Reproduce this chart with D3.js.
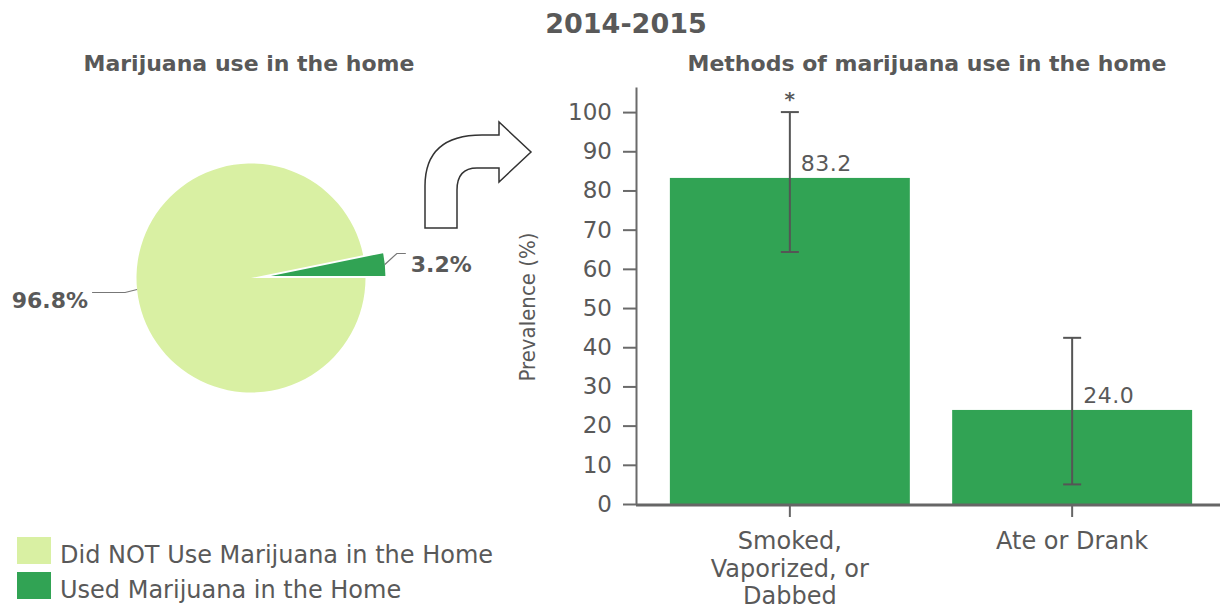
<!DOCTYPE html>
<html>
<head>
<meta charset="utf-8">
<script src="https://cdn.jsdelivr.net/npm/d3@7"></script>
<style>
body { margin: 0; background: #fff; }
text { font-family: "DejaVu Sans", sans-serif; fill: #595959; }
.cond { font-family: "DejaVu Sans Condensed", "DejaVu Sans", sans-serif; }
</style>
</head>
<body>
<script>
// pie data
var pieLabels = ["Used Marijuana in the Home", "Did NOT Use Marijuana in the Home"];
var pieValues = [3.2, 96.8];
var pieColors = ["#31a354", "#d9f0a3"];

// bar data
var methods = ["Smoked, Vaporized, or Dabbed", "Ate or Drank"];
var methodLines = [["Smoked,", "Vaporized, or", "Dabbed"], ["Ate or Drank"]];
var methodValues = [83.2, 24.0];
var ciLow = [64.3, 5.0];
var ciHigh = [100, 42.4];
var flags = ["*", ""];
var yTicks = [0, 10, 20, 30, 40, 50, 60, 70, 80, 90, 100];

var width = 1220, height = 610;

var svg = d3.select("body")
    .append("svg")
    .attr("width", width)
    .attr("height", height);

svg.append("text")
    .attr("x", 626).attr("y", 33)
    .attr("text-anchor", "middle")
    .attr("font-size", 27).attr("font-weight", "bold")
    .text("2014-2015");

// ---- pie ----
svg.append("text")
    .attr("x", 249).attr("y", 71)
    .attr("text-anchor", "middle")
    .attr("font-size", 22).attr("font-weight", "bold")
    .text("Marijuana use in the home");

var radius = 114.5;
var start = Math.PI / 2 - 2 * Math.PI * pieValues[0] / 100;
var pie = d3.pie().sort(null)
    .startAngle(start)
    .endAngle(start + 2 * Math.PI);
var arc = d3.arc().innerRadius(0).outerRadius(radius);

var pg = svg.append("g").attr("transform", "translate(251,278)");
var slices = pie(pieValues);

function explode(d, i) {
    if (i !== 0) return [0, 0];
    var a = (d.startAngle + d.endAngle) / 2;
    return [Math.sin(a) * 20, -Math.cos(a) * 20];
}
function edge(d, i) {
    var a = (d.startAngle + d.endAngle) / 2;
    var o = explode(d, i);
    return [Math.sin(a) * radius + o[0], -Math.cos(a) * radius + o[1]];
}

pg.selectAll("path.slice")
    .data(slices)
    .enter()
    .append("path")
    .attr("class", "slice")
    .attr("d", arc)
    .attr("fill", function(d, i) { return pieColors[i]; })
    .attr("transform", function(d, i) {
        var o = explode(d, i);
        return "translate(" + o[0] + "," + o[1] + ")";
    });

pg.selectAll("polyline")
    .data(slices)
    .enter()
    .append("polyline")
    .attr("fill", "none")
    .attr("stroke", "#777")
    .attr("stroke-width", 1.2)
    .attr("points", function(d, i) {
        var p = edge(d, i);
        if (i === 0) return [p, [p[0] + 12, p[1] - 11], [p[0] + 21, p[1] - 11]].join(" ");
        return [p, [p[0] - 12, p[1] + 3], [p[0] - 45, p[1] + 3]].join(" ");
    });

pg.selectAll("text.plabel")
    .data(slices)
    .enter()
    .append("text")
    .attr("class", "plabel")
    .attr("font-size", 22).attr("font-weight", "bold")
    .attr("text-anchor", function(d, i) { return i === 0 ? "start" : "end"; })
    .attr("x", function(d, i) { var p = edge(d, i); return i === 0 ? p[0] + 26 : p[0] - 49; })
    .attr("y", function(d, i) { var p = edge(d, i); return i === 0 ? p[1] + 7 : p[1] + 19; })
    .text(function(d) { return d.data.toFixed(1) + "%"; });

// arrow
svg.append("path")
    .attr("d", "M425,228 L425,186 Q425,135 482,135 L499,135 L499,122 L531,152 L499,182 L499,168 L477,168 Q457,168 457,190 L457,228 Z")
    .attr("fill", "#fff")
    .attr("stroke", "#333")
    .attr("stroke-width", 1.5);

// legend
var legendOrder = [1, 0];
var leg = svg.selectAll("g.legend")
    .data(legendOrder)
    .enter()
    .append("g")
    .attr("class", "legend")
    .attr("transform", function(d, i) { return "translate(17," + (537 + i * 35) + ")"; });
leg.append("rect")
    .attr("width", 34).attr("height", 27)
    .attr("fill", function(d) { return pieColors[d]; });
leg.append("text")
    .attr("x", 43).attr("y", 26)
    .attr("font-size", 24)
    .text(function(d) { return pieLabels[d]; });

// ---- bars ----
svg.append("text")
    .attr("x", 927).attr("y", 71)
    .attr("text-anchor", "middle")
    .attr("font-size", 22).attr("font-weight", "bold")
    .text("Methods of marijuana use in the home");

var x = d3.scaleBand()
    .domain(methods)
    .range([636, 1226])
    .paddingInner(0.15)
    .paddingOuter(0.12);

var y = d3.scaleLinear()
    .domain([0, 106.4])
    .range([504, 87]);

var yAxis = svg.append("g")
    .attr("transform", "translate(636,0)")
    .call(d3.axisLeft(y).tickValues(yTicks).tickSize(13).tickSizeOuter(0).tickPadding(11));
yAxis.select(".domain").attr("stroke", "#6a6a6a").attr("stroke-width", 2);
yAxis.selectAll(".tick line").attr("stroke", "#6a6a6a").attr("stroke-width", 2);
yAxis.selectAll(".tick text")
    .attr("font-size", 23)
    .attr("font-family", "DejaVu Sans Condensed, DejaVu Sans, sans-serif")
    .attr("fill", "#595959");

svg.append("text")
    .attr("class", "cond")
    .attr("transform", "translate(535,307) rotate(-90)")
    .attr("text-anchor", "middle")
    .attr("font-size", 22)
    .text("Prevalence (%)");

svg.selectAll("rect.bar")
    .data(methodValues)
    .enter()
    .append("rect")
    .attr("class", "bar")
    .attr("x", function(d, i) { return x(methods[i]); })
    .attr("width", x.bandwidth())
    .attr("y", function(d) { return y(d); })
    .attr("height", function(d) { return y(0) - y(d); })
    .attr("fill", "#31a354");

var eb = svg.selectAll("g.err")
    .data(methodValues)
    .enter()
    .append("g")
    .attr("class", "err")
    .attr("stroke", "#555")
    .attr("stroke-width", 2);
eb.append("line")
    .attr("x1", function(d, i) { return x(methods[i]) + x.bandwidth() / 2; })
    .attr("x2", function(d, i) { return x(methods[i]) + x.bandwidth() / 2; })
    .attr("y1", function(d, i) { return y(ciLow[i]); })
    .attr("y2", function(d, i) { return y(ciHigh[i]); });
[ciLow, ciHigh].forEach(function(arr) {
    eb.append("line")
        .attr("x1", function(d, i) { return x(methods[i]) + x.bandwidth() / 2 - 9; })
        .attr("x2", function(d, i) { return x(methods[i]) + x.bandwidth() / 2 + 9; })
        .attr("y1", function(d, i) { return y(arr[i]); })
        .attr("y2", function(d, i) { return y(arr[i]); });
});

svg.selectAll("text.val")
    .data(methodValues)
    .enter()
    .append("text")
    .attr("class", "val")
    .attr("x", function(d, i) { return x(methods[i]) + x.bandwidth() / 2 + 11; })
    .attr("y", function(d) { return y(d) - 7; })
    .attr("font-size", 22)
    .attr("letter-spacing", 0.5)
    .text(function(d) { return d.toFixed(1); });

svg.selectAll("text.flag")
    .data(flags)
    .enter()
    .append("text")
    .attr("class", "flag")
    .attr("x", function(d, i) { return x(methods[i]) + x.bandwidth() / 2; })
    .attr("y", function(d, i) { return y(ciHigh[i]) - 6; })
    .attr("text-anchor", "middle")
    .attr("font-size", 20)
    .attr("font-weight", "bold")
    .text(function(d) { return d; });

// x axis
svg.append("line")
    .attr("x1", 636).attr("x2", 1220)
    .attr("y1", y(0) + 1).attr("y2", y(0) + 1)
    .attr("stroke", "#666").attr("stroke-width", 3);

var xt = svg.selectAll("g.xtick")
    .data(methods)
    .enter()
    .append("g")
    .attr("class", "xtick")
    .attr("transform", function(d) { return "translate(" + (x(d) + x.bandwidth() / 2) + "," + y(0) + ")"; });
xt.append("line")
    .attr("y1", 0).attr("y2", 13)
    .attr("stroke", "#666").attr("stroke-width", 2);
xt.append("text")
    .attr("text-anchor", "middle")
    .attr("font-size", 24)
    .selectAll("tspan")
    .data(function(d, i) { return methodLines[i]; })
    .enter()
    .append("tspan")
    .attr("x", 0)
    .attr("y", function(d, j) { return 45 + j * 27.5; })
    .text(function(d) { return d; });
</script>
</body>
</html>
